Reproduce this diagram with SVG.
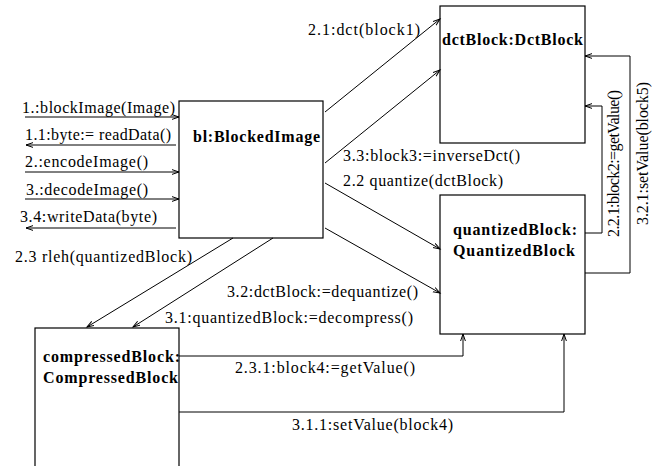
<svg xmlns="http://www.w3.org/2000/svg" width="661" height="466" viewBox="0 0 661 466" font-family="Liberation Serif, Times New Roman, serif">
  <defs>
    <marker id="arr" markerWidth="10" markerHeight="8" refX="7" refY="3" orient="auto" markerUnits="userSpaceOnUse">
      <path d="M0,0.6 L7,3 L0,5.4" fill="none" stroke="#000" stroke-width="1"/>
    </marker>
    <style>
      .box { fill: #fff; stroke: #000; stroke-width: 1.2; }
      .lnk { fill: none; stroke: #000; stroke-width: 1; marker-end: url(#arr); }
      .lbl { font-size: 16px; fill: #000; }
      .name { font-size: 16px; font-weight: bold; fill: #000; }
    </style>
  </defs>
  <rect width="661" height="466" fill="#fff"/>

  <!-- objects -->
  <g id="blockedImage">
    <rect class="box" x="179" y="101" width="144" height="137"/>
    <text class="name" x="193" y="142" textLength="127" lengthAdjust="spacing">bl:BlockedImage</text>
  </g>
  <g id="dctBlock">
    <rect class="box" x="440" y="6" width="145" height="137"/>
    <text class="name" x="442" y="45" textLength="141" lengthAdjust="spacing">dctBlock:DctBlock</text>
  </g>
  <g id="quantizedBlock">
    <rect class="box" x="440" y="195" width="145" height="139"/>
    <text class="name" x="453" y="235" textLength="124" lengthAdjust="spacing">quantizedBlock:</text>
    <text class="name" x="453" y="256" textLength="122" lengthAdjust="spacing">QuantizedBlock</text>
  </g>
  <g id="compressedBlock">
    <rect class="box" x="35" y="328" width="144" height="150"/>
    <text class="name" x="43" y="362" textLength="137" lengthAdjust="spacing">compressedBlock:</text>
    <text class="name" x="43" y="383" textLength="135" lengthAdjust="spacing">CompressedBlock</text>
  </g>

  <!-- messages -->
  <g id="connectors">
    <!-- external calls into bl:BlockedImage -->
    <line class="lnk" x1="25" y1="117" x2="179" y2="117"/>
    <line class="lnk" x1="176" y1="145" x2="26" y2="145"/>
    <line class="lnk" x1="25" y1="172" x2="179" y2="172"/>
    <line class="lnk" x1="25" y1="199" x2="179" y2="199"/>
    <line class="lnk" x1="176" y1="228" x2="26" y2="228"/>

    <!-- bl:BlockedImage to the block objects -->
    <line class="lnk" x1="325" y1="112" x2="440" y2="19"/>
    <line class="lnk" x1="325" y1="163" x2="440" y2="70"/>
    <line class="lnk" x1="325" y1="183" x2="440" y2="249"/>
    <line class="lnk" x1="325" y1="228" x2="440" y2="293"/>
    <line class="lnk" x1="233" y1="238" x2="87" y2="327"/>
    <line class="lnk" x1="273" y1="238" x2="133" y2="327"/>

    <!-- quantizedBlock back to dctBlock -->
    <polyline class="lnk" points="585,233 602,233 602,106 585,106"/>
    <polyline class="lnk" points="585,273 630,273 630,56 585,56"/>

    <!-- compressedBlock to quantizedBlock -->
    <polyline class="lnk" points="179,356 463,356 463,334"/>
    <polyline class="lnk" points="179,412 564,412 564,334"/>
  </g>

  <!-- message labels -->
  <g id="labels">
    <text class="lbl" x="22" y="113" textLength="153" lengthAdjust="spacing">1.:blockImage(Image)</text>
    <text class="lbl" x="25" y="140" textLength="146" lengthAdjust="spacing">1.1:byte:= readData()</text>
    <text class="lbl" x="25" y="167" textLength="123" lengthAdjust="spacing">2.:encodeImage()</text>
    <text class="lbl" x="26" y="195" textLength="122" lengthAdjust="spacing">3.:decodeImage()</text>
    <text class="lbl" x="20" y="222" textLength="137" lengthAdjust="spacing">3.4:writeData(byte)</text>

    <text class="lbl" x="308" y="35" textLength="112" lengthAdjust="spacing">2.1:dct(block1)</text>
    <text class="lbl" x="343" y="161" textLength="177" lengthAdjust="spacing">3.3:block3:=inverseDct()</text>
    <text class="lbl" x="343" y="186" textLength="160" lengthAdjust="spacing">2.2 quantize(dctBlock)</text>
    <text class="lbl" x="15" y="262" textLength="177" lengthAdjust="spacing">2.3 rleh(quantizedBlock)</text>
    <text class="lbl" x="227" y="297" textLength="191" lengthAdjust="spacing">3.2:dctBlock:=dequantize()</text>
    <text class="lbl" x="165" y="323" textLength="248" lengthAdjust="spacing">3.1:quantizedBlock:=decompress()</text>
    <text class="lbl" x="235" y="373" textLength="180" lengthAdjust="spacing">2.3.1:block4:=getValue()</text>
    <text class="lbl" x="292" y="430" textLength="161" lengthAdjust="spacing">3.1.1:setValue(block4)</text>

    <text class="lbl" transform="translate(619,237) rotate(-90)" textLength="147" lengthAdjust="spacing">2.2.1:block2:=getValue()</text>
    <text class="lbl" transform="translate(648,225) rotate(-90)" textLength="143" lengthAdjust="spacing">3.2.1:setValue(block5)</text>
  </g>
</svg>
